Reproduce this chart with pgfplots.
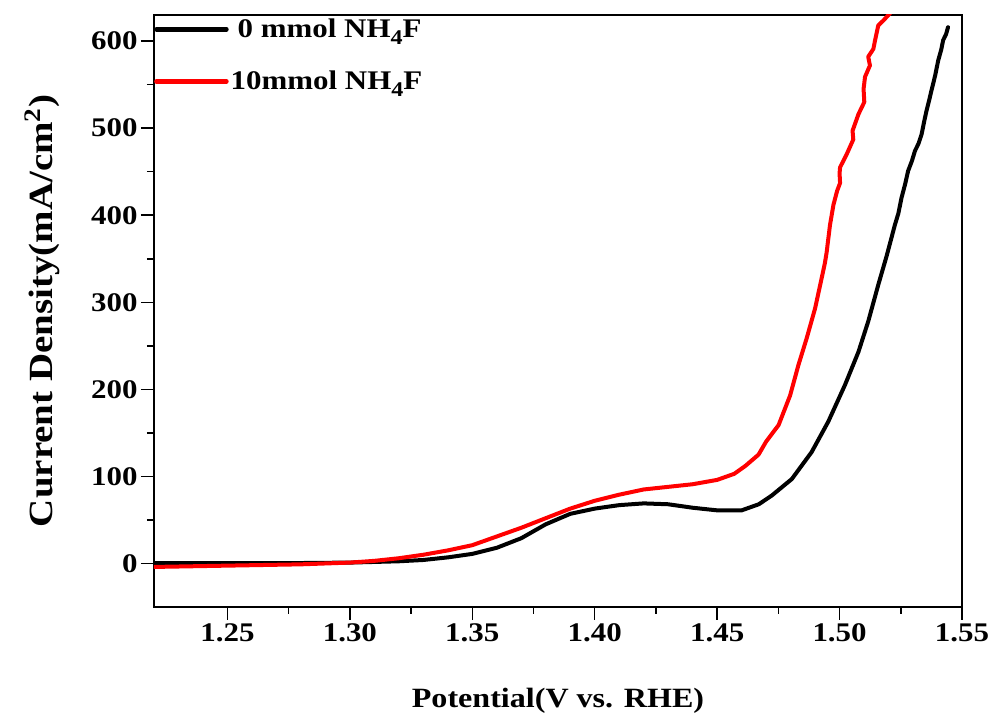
\documentclass[border=0pt]{standalone}
\usepackage{fontspec}
\setmainfont{Liberation Serif}[FakeStretch=1.15]
\usepackage{pgfplots}
\pgfplotsset{compat=1.18}
\newcommand{\lsub}[1]{\raisebox{-7bp}{\fontsize{21}{21}\selectfont #1}}
\begin{document}
\begin{tikzpicture}
\begin{axis}[
  name=ax, scale only axis, width=808bp, height=592bp,
  xmin=1.22, xmax=1.55, ymin=-50, ymax=630,
  xtick={1.25,1.30,1.35,1.40,1.45,1.50,1.55}, minor x tick num=1,
  ytick={0,100,200,300,400,500,600}, minor y tick num=1,
  tick align=outside, xtick pos=bottom, ytick pos=left,
  major tick length=13bp, minor tick length=7bp,
  axis line style={line width=1.5bp},
  tick style={line width=1.5bp, black},
  /pgf/number format/assume math mode=true,
  xticklabel style={/pgf/number format/.cd, fixed, fixed zerofill, precision=2},
  ticklabel style={font=\fontsize{27}{30}\selectfont\bfseries},
  xlabel={Potential(V vs. RHE)},
  ylabel={Current Density(mA/cm\raisebox{3bp}{\textsuperscript{2}})},
  xlabel style={font=\fontsize{28}{32}\selectfont\bfseries, yshift=-40bp},
  ylabel style={font=\fontsize{34}{38}\selectfont\bfseries, yshift=24bp},
  legend style={at={(rel axis cs:0,1)}, anchor=north west, draw=none, fill=none,
    inner xsep=0pt, inner ysep=2bp, font=\fontsize{27}{30}\selectfont\bfseries,
    row sep=28bp},
  legend cell align=left,
  legend image code/.code={\draw[#1, line width=4.5bp] (0bp,0bp) -- (70bp,0bp);},
  every axis plot/.append style={line join=round, line cap=round},
]
\addplot[black, line width=4bp] coordinates {
(1.220,0.5) (1.250,0.5) (1.280,0.5) (1.300,1) (1.320,2.5) (1.330,4) (1.340,7)
(1.350,11) (1.360,18) (1.370,29) (1.380,45) (1.390,57) (1.400,63) (1.410,67)
(1.420,69) (1.430,68) (1.440,64) (1.450,61) (1.460,61) (1.467,68) (1.4723,78)
(1.4805,97) (1.4886,128) (1.4954,163) (1.5022,205) (1.5077,243) (1.5117,278)
(1.5158,320) (1.5192,353) (1.5210,372) (1.5226,389) (1.5240,402) (1.5253,420)
(1.5268,436) (1.5280,451) (1.5295,462) (1.5308,474) (1.5322,482) (1.5335,493)
(1.5345,507) (1.5355,520) (1.5365,531) (1.5375,543) (1.5390,560) (1.5403,578)
(1.5415,590) (1.5423,601) (1.5435,608) (1.5443,616)
};
\addlegendentry{\hspace{7bp}0 mmol NH\lsub{4}F}
\addplot[red, line width=4bp] coordinates {
(1.220,-4) (1.240,-3) (1.260,-2) (1.280,-1) (1.300,1) (1.310,3) (1.320,6)
(1.330,10) (1.340,15) (1.350,21) (1.360,31) (1.370,41) (1.380,52) (1.390,63)
(1.400,72) (1.410,79) (1.420,85) (1.430,88) (1.440,91) (1.450,96) (1.457,103)
(1.4615,112) (1.4669,125) (1.4700,140) (1.4751,159) (1.4798,193) (1.4832,228)
(1.4866,259) (1.4900,293) (1.4927,328) (1.4940,345) (1.4947,357) (1.4961,389)
(1.4975,412) (1.4990,428) (1.5002,437) (1.5000,448) (1.5002,455) (1.5029,470)
(1.5056,487) (1.5053,497) (1.5077,516) (1.5101,530) (1.5098,545) (1.5104,559)
(1.5124,572) (1.5117,582) (1.5138,591) (1.5145,601) (1.5158,618) (1.5180,624)
(1.5206,632) (1.5220,640)
};
\addlegendentry{10mmol NH\lsub{4}F}
\end{axis}
\pgfresetboundingbox
\useasboundingbox ([shift={(-154bp,-108bp)}]ax.south west) rectangle ([shift={(30bp,15bp)}]ax.north east);
\end{tikzpicture}
\end{document}
